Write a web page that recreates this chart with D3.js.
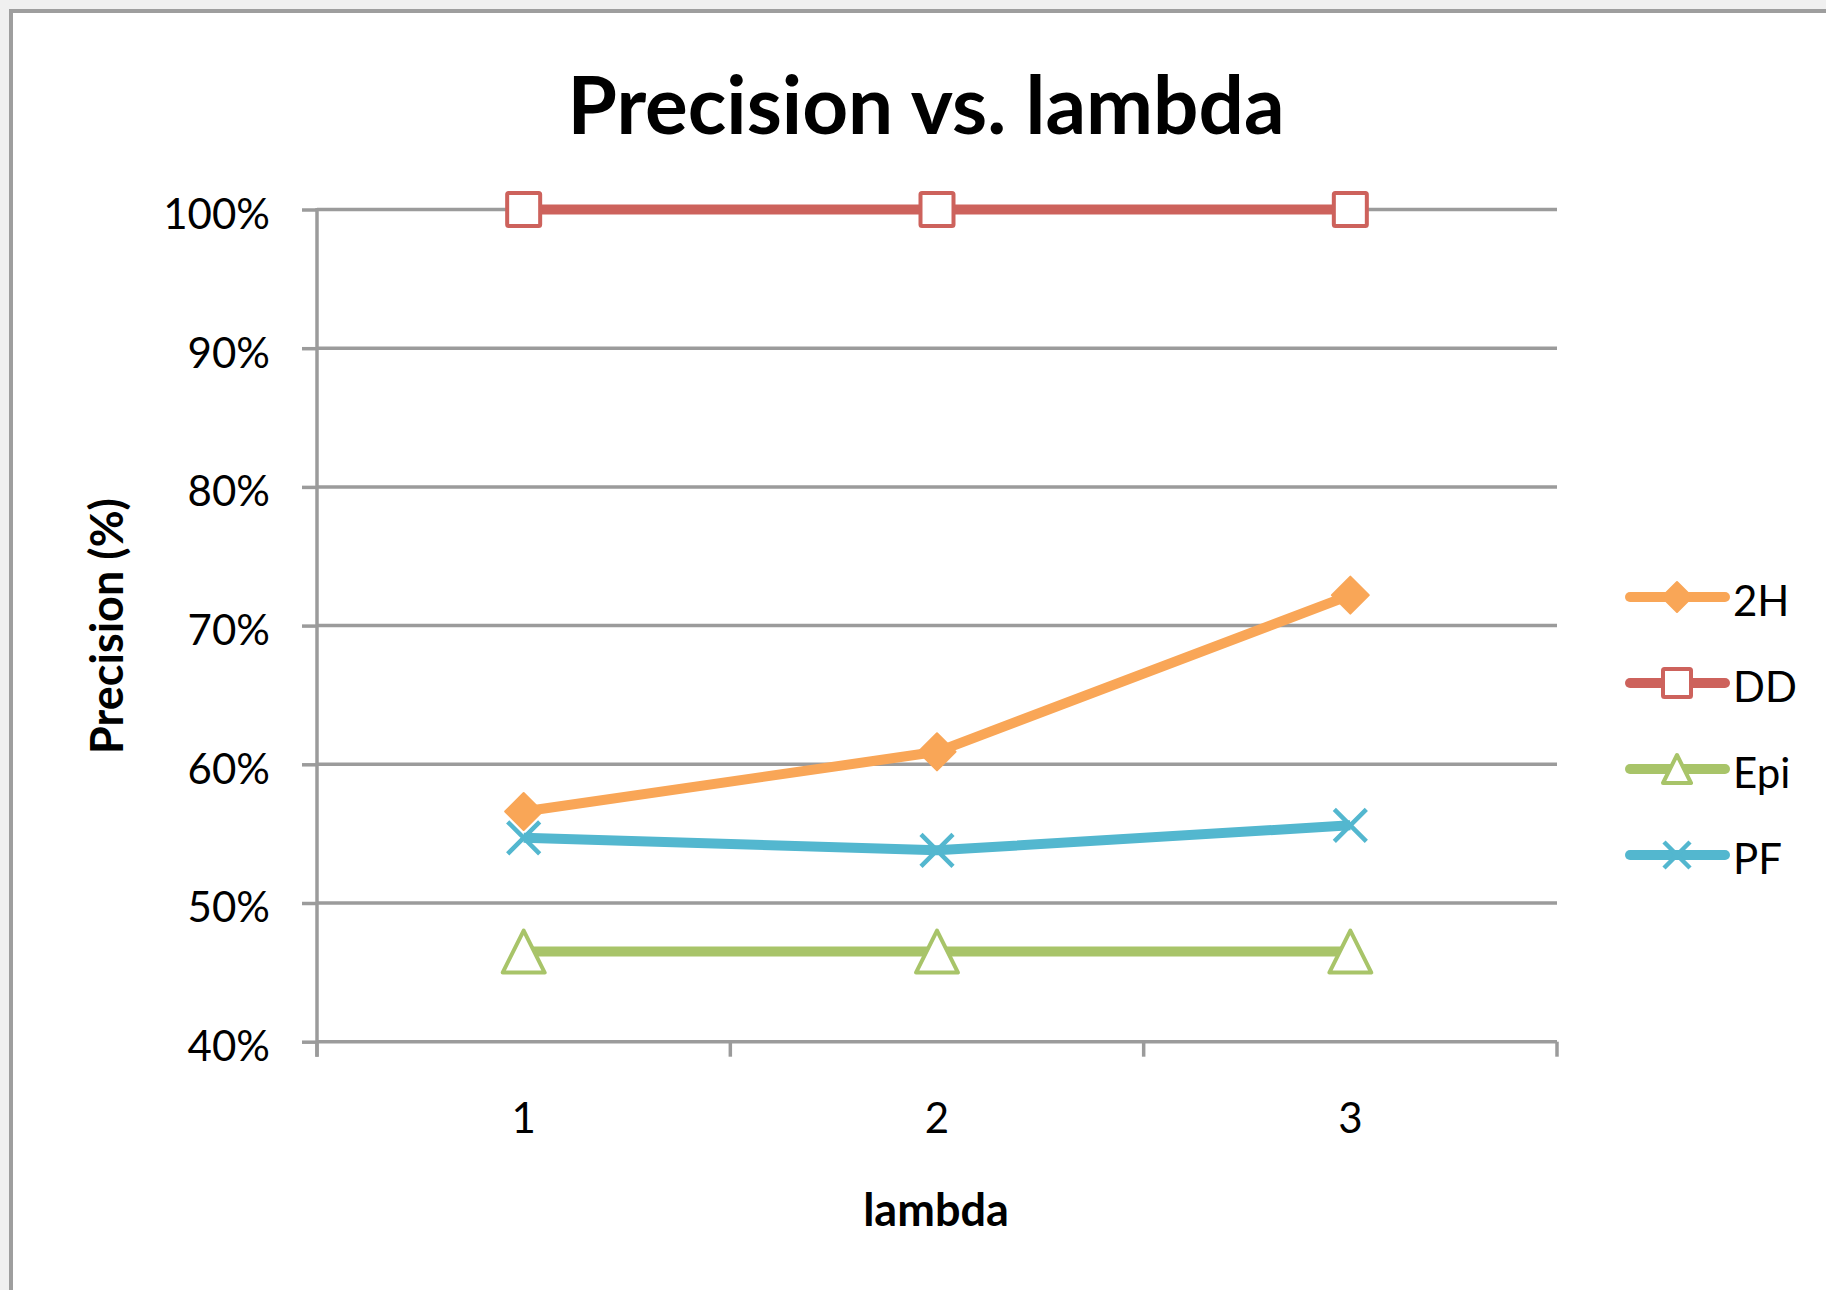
<!DOCTYPE html>
<html>
<head>
<meta charset="utf-8">
<script src="https://cdn.jsdelivr.net/npm/d3@7"></script>
<style>
  body { margin: 0; background: #f0f0f0; }
  text { font-family: Lato, "Open Sans", sans-serif; fill: #000; }
</style>
</head>
<body>
<script>
// data
var lambdas = ["1", "2", "3"];
var seriesNames = ["2H", "DD", "Epi", "PF"];
var values2H = [0.566, 0.609, 0.722];
var valuesDD = [1.0, 1.0, 1.0];
var valuesEpi = [0.465, 0.465, 0.465];
var valuesPF = [0.547, 0.538, 0.556];
var yTicks = [0.4, 0.5, 0.6, 0.7, 0.8, 0.9, 1.0];

var colors = { "2H": "#f9a657", "DD": "#cd625c", "Epi": "#a8c469", "PF": "#53b7cf" };
var shapes = { "2H": "diamond", "DD": "square", "Epi": "triangle", "PF": "x" };

var series = [
  { name: "2H", values: values2H },
  { name: "DD", values: valuesDD },
  { name: "Epi", values: valuesEpi },
  { name: "PF", values: valuesPF }
];

var W = 1826, H = 1290;
var plotLeft = 317, plotRight = 1557, plotTop = 209.5, plotBottom = 1041.7;
var gridColor = "#9b9b9b";

var svg = d3.select("body").append("svg")
  .attr("width", W)
  .attr("height", H)
  .style("display", "block");

// chart frame (runs off right & bottom edge)
svg.append("rect")
  .attr("x", 11).attr("y", 11)
  .attr("width", W + 20).attr("height", H + 20)
  .attr("fill", "#fff")
  .attr("stroke", "#9e9e9e")
  .attr("stroke-width", 4);

var x = d3.scaleBand().domain(lambdas).range([plotLeft, plotRight]);
var y = d3.scaleLinear().domain([0.4, 1.0]).range([plotBottom, plotTop]);

// gridlines
svg.append("g").attr("class", "grid")
  .selectAll("line")
  .data(yTicks)
  .enter().append("line")
  .attr("x1", plotLeft).attr("x2", plotRight)
  .attr("y1", d => y(d)).attr("y2", d => y(d))
  .attr("stroke", gridColor)
  .attr("stroke-width", 3.5);

// y axis
var yAxis = svg.append("g")
  .attr("transform", "translate(" + plotLeft + ",0)")
  .call(d3.axisLeft(y).tickValues(yTicks).tickFormat(d3.format(".0%")).tickSize(15).tickPadding(32));
yAxis.select(".domain").remove();
yAxis.selectAll(".tick line").attr("stroke", gridColor).attr("stroke-width", 3.5);
yAxis.selectAll(".tick text")
  .attr("dy", "0.45em")
  .style("font-size", "42px")
  .style("font-family", "Lato, sans-serif")
  .attr("fill", "#000");
yAxis.append("line")
  .attr("x1", 0).attr("x2", 0)
  .attr("y1", plotTop - 1.5).attr("y2", plotBottom + 15)
  .attr("stroke", gridColor).attr("stroke-width", 3.5);

// x axis: ticks at band edges, labels at centres
var xAxis = svg.append("g").attr("class", "xaxis");
var edges = lambdas.map(d => x(d)).concat([plotRight]);
xAxis.selectAll("line.edge")
  .data(edges)
  .enter().append("line")
  .attr("class", "edge")
  .attr("x1", d => d).attr("x2", d => d)
  .attr("y1", plotBottom).attr("y2", plotBottom + 15)
  .attr("stroke", gridColor).attr("stroke-width", 3.5);
xAxis.selectAll("text")
  .data(lambdas)
  .enter().append("text")
  .attr("x", d => x(d) + x.bandwidth() / 2)
  .attr("y", 1133)
  .attr("text-anchor", "middle")
  .style("font-size", "42px")
  .text(d => d);

// titles
svg.append("text")
  .attr("x", 926).attr("y", 134)
  .attr("text-anchor", "middle")
  .style("font-size", "80px")
  .style("font-weight", "bold")
  .text("Precision vs. lambda");

svg.append("text")
  .attr("x", 936).attr("y", 1226)
  .attr("text-anchor", "middle")
  .style("font-size", "45px")
  .style("font-weight", "bold")
  .text("lambda");

svg.append("text")
  .attr("transform", "translate(123,626) rotate(-90)")
  .attr("text-anchor", "middle")
  .style("font-size", "45px")
  .style("font-weight", "bold")
  .text("Precision (%)");

// marker drawing
function drawMarker(g, shape, color, s) {
  if (shape === "diamond") {
    g.append("path")
      .attr("d", "M0," + (-s) + "L" + s + ",0L0," + s + "L" + (-s) + ",0Z")
      .attr("fill", color).attr("stroke", color)
      .attr("stroke-width", 2).attr("stroke-linejoin", "round");
  } else if (shape === "square") {
    g.append("rect")
      .attr("x", -s).attr("y", -s).attr("width", 2 * s).attr("height", 2 * s)
      .attr("rx", 1.5)
      .attr("fill", "#fff").attr("stroke", color).attr("stroke-width", 4);
  } else if (shape === "triangle") {
    g.append("path")
      .attr("d", "M0," + (-s) + "L" + s + "," + s + "L" + (-s) + "," + s + "Z")
      .attr("fill", "#fff").attr("stroke", color)
      .attr("stroke-width", 4).attr("stroke-linejoin", "round");
  } else {
    g.append("path")
      .attr("d", "M" + (-s) + "," + (-s) + "L" + s + "," + s + "M" + (-s) + "," + s + "L" + s + "," + (-s))
      .attr("stroke", color).attr("stroke-width", 4.5);
  }
}

var markerSize = { "2H": 18.5, "DD": 16.5, "Epi": 21, "PF": 16 };

var line = d3.line()
  .x((d, i) => x(lambdas[i]) + x.bandwidth() / 2)
  .y(d => y(d));

var lines = svg.append("g").attr("class", "lines");
series.forEach(function (s) {
  lines.append("path")
    .attr("d", line(s.values))
    .attr("fill", "none")
    .attr("stroke", colors[s.name])
    .attr("stroke-width", 10)
    .attr("stroke-linejoin", "round");
});
series.forEach(function (s) {
  s.values.forEach(function (v, i) {
    var g = lines.append("g")
      .attr("transform", "translate(" + (x(lambdas[i]) + x.bandwidth() / 2) + "," + y(v) + ")");
    drawMarker(g, shapes[s.name], colors[s.name], markerSize[s.name]);
  });
});

// legend
var legend = svg.append("g").attr("class", "legend");
var legendY = d3.scalePoint().domain(seriesNames).range([597, 855]);
var legendMarker = { "2H": 15, "DD": 14, "Epi": 14, "PF": 13 };
seriesNames.forEach(function (n) {
  var row = legend.append("g").attr("transform", "translate(0," + legendY(n) + ")");
  row.append("line")
    .attr("x1", 1630).attr("x2", 1725)
    .attr("stroke", colors[n]).attr("stroke-width", 10)
    .attr("stroke-linecap", "round");
  var m = row.append("g").attr("transform", "translate(1677,0)");
  drawMarker(m, shapes[n], colors[n], legendMarker[n]);
  row.append("text")
    .attr("x", 1733).attr("y", 0).attr("dy", "0.46em")
    .style("font-size", "42px")
    .text(n);
});
</script>
</body>
</html>
